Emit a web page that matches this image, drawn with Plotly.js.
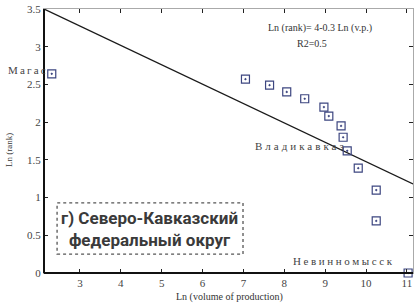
<!DOCTYPE html>
<html><head><meta charset="utf-8">
<script src="https://cdn.plot.ly/plotly-3.0.1.min.js"></script>
<style>html,body{margin:0;padding:0;background:#fff;}</style>
</head><body>
<div id="chart" style="width:417px;height:304px;"></div>
<script>
// Data
var lnVolume = [2.31, 7.05, 7.64, 8.06, 8.50, 8.97, 9.09, 9.39, 9.44, 9.54, 9.81, 10.25, 10.25, 11.03];
var lnRank   = [2.64, 2.57, 2.49, 2.40, 2.31, 2.20, 2.08, 1.95, 1.80, 1.62, 1.39, 1.10, 0.69, 0.00];
var fitX = [2.12, 11.15];
var fitY = [3.50, 1.18];
var xTicks = [3, 4, 5, 6, 7, 8, 9, 10, 11];
var yTicks = [0, 0.5, 1, 1.5, 2, 2.5, 3, 3.5];
var yTickText = ['0', '0.5', '1', '1.5', '2', '2.5', '3', '3.5'];
var cityNames = ['Магас', 'Владикавказ', 'Невинномысск'];
var equationText = 'Ln (rank)= 4-0.3 Ln (v.p.)';
var r2Text = 'R2=0.5';
var regionTitle = ['г) Северо-Кавказский', 'федеральный округ'];

var serif = 'Liberation Serif, DejaVu Serif, serif';
var sp = function(t, s){ return '<span style="letter-spacing:' + s + 'px">' + t + '</span>'; };

var traces = [
  {x: fitX, y: fitY, mode: 'lines', line: {color: '#1a1a1a', width: 1.3}, hoverinfo: 'skip', showlegend: false},
  {x: lnVolume, y: lnRank, mode: 'markers', cliponaxis: false, showlegend: false,
   marker: {symbol: 'square-open-dot', size: 8, color: '#3d4680', line: {width: 1.2, color: '#3d4680'}}}
];

var layout = {
  width: 417, height: 304,
  margin: {l: 44, r: 4, t: 9, b: 31},
  paper_bgcolor: '#fff', plot_bgcolor: '#fff',
  showlegend: false,
  font: {family: serif, size: 10, color: '#333'},
  xaxis: {range: [2.12, 11.15], tickvals: xTicks, ticktext: xTicks.map(String),
    showgrid: false, zeroline: false, showline: true, linecolor: '#aaa', linewidth: 1,
    mirror: 'ticks', ticks: 'inside', ticklen: 4, tickcolor: '#222',
    tickfont: {family: serif, size: 11, color: '#444'}},
  yaxis: {range: [0, 3.5], tickvals: yTicks, ticktext: yTickText,
    showgrid: false, zeroline: false, showline: true, linecolor: '#aaa', linewidth: 1,
    mirror: 'ticks', ticks: 'inside', ticklen: 4, tickcolor: '#222',
    tickfont: {family: serif, size: 11, color: '#444'}},
  shapes: [
    {type: 'line', xref: 'paper', yref: 'paper', x0: 0, x1: 0, y0: 0, y1: 1, line: {color: '#111', width: 2}},
    {type: 'line', xref: 'paper', yref: 'paper', x0: 0, x1: 1, y0: 0, y1: 0, line: {color: '#111', width: 2}},
    {type: 'rect', xref: 'x', yref: 'y', x0: 2.44, x1: 6.99, y0: 0.25, y1: 0.93,
     line: {color: '#555', width: 1.3, dash: 'dot'}, fillcolor: 'rgba(0,0,0,0)'}
  ],
  annotations: [
    {xref: 'paper', yref: 'y', x: 0.016, y: 2.69, xanchor: 'right', yanchor: 'middle', showarrow: false,
     text: sp(cityNames[0], 2.2), font: {family: serif, size: 11, color: '#444'}},
    {xref: 'x', yref: 'y', x: 8.42, y: 1.68, xanchor: 'center', yanchor: 'middle', showarrow: false,
     text: sp(cityNames[1], 3), font: {family: serif, size: 11, color: '#444'}},
    {xref: 'x', yref: 'y', x: 9.46, y: 0.16, xanchor: 'center', yanchor: 'middle', showarrow: false,
     text: sp(cityNames[2], 2.6), font: {family: serif, size: 11, color: '#444'}},
    {xref: 'x', yref: 'y', x: 7.55, y: 3.25, xanchor: 'left', yanchor: 'middle', showarrow: false,
     text: equationText, font: {family: serif, size: 10, color: '#333'}},
    {xref: 'x', yref: 'y', x: 8.26, y: 3.04, xanchor: 'left', yanchor: 'middle', showarrow: false,
     text: r2Text, font: {family: serif, size: 10, color: '#333'}},
    {xref: 'x', yref: 'y', x: 4.71, y: 0.59, xanchor: 'center', yanchor: 'middle', showarrow: false,
     text: regionTitle.join('<br>'), font: {family: 'Liberation Sans Narrow, Roboto, Open Sans, sans-serif', size: 17, color: '#3a3a3a', weight: 'bold'}},
    {xref: 'paper', yref: 'paper', x: 0.504, y: -0.091, xanchor: 'center', yanchor: 'middle', showarrow: false,
     text: 'Ln (volume of production)', font: {family: serif, size: 10, color: '#333'}},
    {xref: 'paper', yref: 'paper', x: -0.095, y: 0.466, xanchor: 'center', yanchor: 'middle', showarrow: false, textangle: -90,
     text: 'Ln (rank)', font: {family: serif, size: 9, color: '#333'}}
  ]
};

Plotly.newPlot('chart', traces, layout, {displayModeBar: false, staticPlot: true});
</script>
</body></html>
